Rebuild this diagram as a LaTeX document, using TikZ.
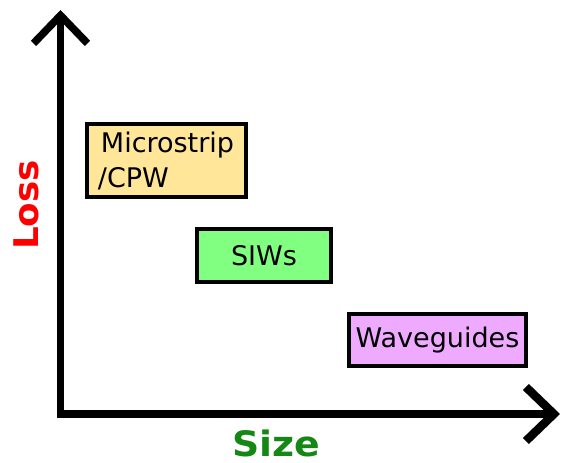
\documentclass[tikz,border=0pt]{standalone}
\usepackage{fontspec}
\setmainfont{DejaVu Sans}
\usetikzlibrary{arrows.meta}
\definecolor{microfill}{RGB}{255,230,153}
\definecolor{siwfill}{RGB}{128,255,128}
\definecolor{wgfill}{RGB}{238,170,255}
\definecolor{sizegreen}{RGB}{20,135,20}
\tikzset{
  axis/.style={line width=7.5pt,-{Straight Barb[length=28pt,width=54pt]}},
  box/.style={draw=black,line width=4pt,font=\fontsize{27}{35}\selectfont,inner sep=0pt},
  axlabel/.style={inner sep=0pt,font=\bfseries\fontsize{#1}{#1}\selectfont}
}
\begin{document}
\begin{tikzpicture}[x=1pt,y=-1pt]
      \useasboundingbox(0,0)rectangle(563,463);
      \coordinate(o)at(60.5,414);
      \coordinate(ytip)at(60.5,10);
      \coordinate(xtip)at(560,414);
      \draw[axis]([yshift=-4pt]o)--(ytip);
      \draw[axis,line width=8.5pt]([xshift=-3.75pt]o)--(xtip);
      \node[box,fill=microfill,minimum width=159pt,minimum height=73pt,align=left](micro)at(166,160.5){\hspace{3pt}Microstrip\\/CPW};
      \node[box,fill=siwfill,minimum width=134pt,minimum height=53pt](siw)at(264,255.5){SIWs};
      \node[box,fill=wgfill,minimum width=177pt,minimum height=52pt](wg)at(437.5,340){Waveguides};
      \node[axlabel=34,red,rotate=90,xscale=1.05](loss)at(26,205){Loss};
      \node[axlabel=35,sizegreen,xscale=1.08](size)at(276,443){Size};
    \end{tikzpicture}
\end{document}
